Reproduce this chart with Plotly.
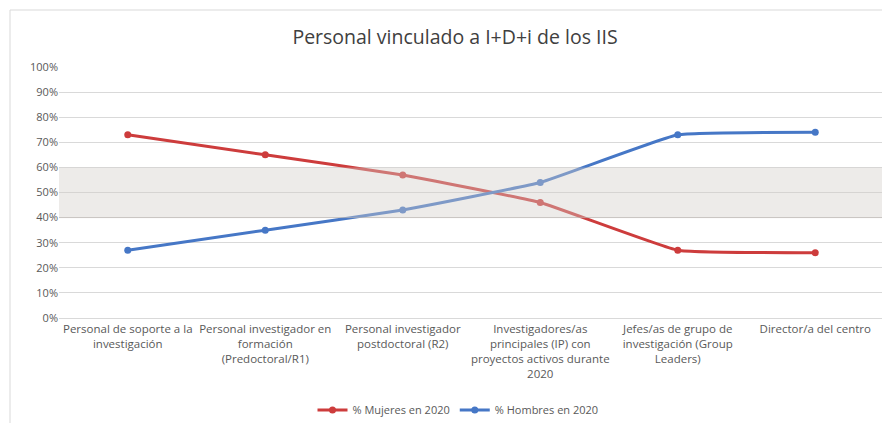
import plotly.graph_objects as go

categories = [
    "Personal de soporte a la<br>investigación",
    "Personal investigador en<br>formación<br>(Predoctoral/R1)",
    "Personal investigador<br>postdoctoral (R2)",
    "Investigadores/as<br>principales (IP) con<br>proyectos activos durante<br>2020",
    "Jefes/as de grupo de<br>investigación (Group<br>Leaders)",
    "Director/a del centro",
]
mujeres = [73, 65, 57, 46, 27, 26]
hombres = [27, 35, 43, 54, 73, 74]
band = [40, 60]

# page body has an 8px default margin; work in window pixels and shift
OFF = 8
W, H = 890 - OFF, 423 - OFF
# plot area in window pixels
X0, X1, Y0, Y1 = 59, 884, 67, 318
L, R, T, B = X0 - OFF, W - (X1 - OFF), Y0 - OFF, H - (Y1 - OFF)
pw = W - L - R
ph = H - T - B

def px_x(p):
    return (p - OFF - L) / pw

def px_y(p):
    return ((Y1 - OFF) - (p - OFF)) / ph

fig = go.Figure()
fig.add_trace(go.Scatter(
    x=categories, y=mujeres, name="% Mujeres en 2020", mode="lines+markers",
    line=dict(color="#cd3c3c", width=3, shape="spline", smoothing=0.3),
    marker=dict(size=7, color="#cd3c3c"),
))
fig.add_trace(go.Scatter(
    x=categories, y=hombres, name="% Hombres en 2020", mode="lines+markers",
    line=dict(color="#4677c6", width=3, shape="spline", smoothing=0.3),
    marker=dict(size=7, color="#4677c6"),
))

# gray band 40-60%
fig.add_shape(type="rect", xref="paper", yref="y", x0=0, x1=1, y0=band[0], y1=band[1],
              fillcolor="rgba(210,206,200,0.4)", line=dict(width=0), layer="above")
fig.add_shape(type="line", xref="paper", yref="y", x0=0, x1=1, y0=band[0], y1=band[0],
              line=dict(color="rgba(190,185,180,0.6)", width=1), layer="above")

# chart border
fig.add_shape(type="rect", xref="paper", yref="paper",
              x0=px_x(10), x1=px_x(885), y0=px_y(440), y1=px_y(10),
              line=dict(color="#d9d9d9", width=1), fillcolor="rgba(0,0,0,0)", layer="below")

fig.update_layout(
    width=W, height=H,
    margin=dict(l=L, r=R, t=T, b=B, autoexpand=False),
    paper_bgcolor="white", plot_bgcolor="white",
    font=dict(family="Open Sans, Lato, sans-serif", color="#595959", size=11),
    title=dict(text="Personal vinculado a I+D+i de los IIS", x=(455 - OFF) / W, xanchor="center",
               y=1 - (37 - OFF) / H, yanchor="middle",
               font=dict(size=19.5, color="#404040", family="Open Sans, sans-serif")),
    showlegend=True,
    legend=dict(orientation="h", x=px_x(458), xanchor="center", y=px_y(410), yanchor="middle",
                font=dict(size=11, color="#595959"), bgcolor="rgba(0,0,0,0)"),
    xaxis=dict(showgrid=False, showline=True, linecolor="#d9d9d9", ticks="", automargin=False,
               tickfont=dict(size=11.5, color="#595959"), range=[-0.5, 5.5]),
    yaxis=dict(range=[0, 100], dtick=10, ticksuffix="%", showgrid=True, gridcolor="#d9d9d9",
               zeroline=False, showline=False, automargin=False,
               tickfont=dict(size=11, color="#595959")),
)
fig.write_html("out.html")
